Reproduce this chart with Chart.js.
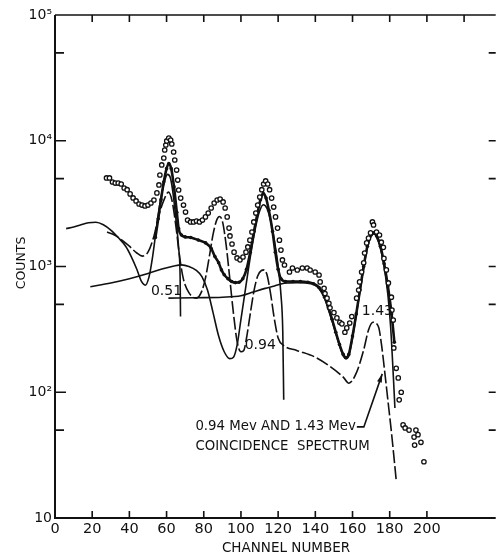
<!DOCTYPE html>
<html>
<head>
<meta charset="utf-8">
<script src="https://cdn.jsdelivr.net/npm/chart.js@4"></script>
<style>
  html, body { margin: 0; padding: 0; background: #fff; }
</style>
</head>
<body>
<canvas id="spectrum" width="501" height="560"></canvas>
<script>
// measured total spectrum (open circles), [channel, counts]
const measured = [
  [27.7,5060],[29.3,5060],[30.9,4700],[32.4,4610],[34,4610],[35.6,4530],[37.2,4210],[38.8,4080],
  [40.4,3780],[42,3510],[43.6,3320],[45.2,3140],[46.8,3080],[48.4,3030],[50,3080],[51.6,3200],
  [53.2,3380],[54.8,3850],[55.9,4450],[56.4,5340],[57.4,6420],[58.5,7290],[59,8440],[59.6,9250],
  [60.1,9960],[61.2,10500],[62.2,10140],[62.8,9420],[63.8,8140],[64.4,7030],[65.4,5850],[66,4870],
  [66.5,4060],[67.6,3500],[69.1,3080],[70.2,2710],[71.3,2340],[72.9,2260],[74.5,2260],[76.1,2300],
  [77.7,2260],[79.3,2340],[80.9,2480],[82.4,2660],[84,2920],[85.6,3200],[87.2,3380],[88.8,3440],
  [90.4,3260],[91.5,2920],[92.6,2480],[93.6,2020],[94.1,1750],[95.2,1510],[96.3,1300],[97.9,1170],
  [99.5,1130],[101.1,1190],[102.7,1300],[103.7,1430],[104.8,1620],[105.9,1880],[106.9,2260],[108,2660],
  [109,3080],[110.1,3570],[111.2,4080],[112.2,4530],[113.3,4790],[114.4,4530],[115.4,4080],[116.5,3500],
  [117.6,2970],[118.6,2480],[119.7,2020],[120.7,1620],[121.5,1350],[122.3,1127],[123.4,1028],[126.1,904],
  [127.7,973],[130.3,938],[133,973],[135.6,973],[137.2,938],[139.9,904],[142,856],[142.6,754],
  [144.7,670],[145.2,610],[146.3,560],[147.3,510],[147.9,470],[150,430],[151.6,390],[153.2,360],
  [154.3,350],[155.9,300],[156.9,325],[158.5,355],[159.6,400],[162.2,560],[163.3,650],[163.8,754],
  [164.9,904],[166,1070],[166.5,1280],[167.6,1540],[168.6,1680],[169.7,1850],[170.7,2260],[171.3,2140],
  [172.9,1880],[174.5,1780],[175.5,1560],[176.6,1420],[176.9,1160],[178.2,940],[179.3,740],[180.9,570],
  [181.2,450],[181.9,375],[182.2,225],[183.5,155],[184.6,130],[185.1,87],[186.2,100],[187.2,55],
  [188.3,52],[190.4,50],[193.1,44],[193.4,38],[194.1,50],[195.2,46],[196.8,40],[198.4,28]
];

// spectrum with filled points (heavy line)
const resolved = [
  [54,1700],[55.5,2400],[57,3400],[58.5,4700],[60,6000],[61.2,6600],[62.5,6000],[64,4300],
  [65.5,2700],[66.5,2000],[68,1780],[70,1720],[73,1700],[77,1625],[81,1540],[84,1390],
  [86,1200],[88,1070],[89.5,940],[91,860],[93,800],[95,760],[97,745],[99,750],
  [101,800],[103,950],[105,1300],[107,1900],[109,2700],[110.5,3400],[112,3800],[113.5,3500],
  [115,2800],[117,1900],[118.5,1300],[120,950],[121.5,800],[124,760],[128,760],[132,760],
  [136,750],[139,730],[142,680],[145,570],[147,470],[149,380],[151,300],[153,240],
  [155,200],[156.5,188],[158,200],[160,280],[162,420],[164,650],[166,1000],[168,1450],
  [170,1780],[171.5,1850],[173,1750],[175,1450],[177,1050],[179,700],[181,420],[182.5,250]
];

// 0.51 Mev line shape
const line051 = [
  [6,2000],[10,2060],[14,2150],[18,2230],[22,2250],[26,2150],[30,1950],[34,1700],
  [38,1450],[41,1200],[44,950],[46.5,760],[48.5,710],[50.5,820],[52.5,1200],[54.5,2000],
  [56.5,3200],[58.5,4500],[60.5,5400],[62,5100],[63.5,3800],[65,2400],[66.5,1400],[67.3,800],[67.5,400]
];

// 0.94 Mev line shape
const line094 = [
  [19,690],[30,740],[40,800],[50,880],[58,960],[64,1010],[68,1030],[72,1000],
  [76,930],[79,830],[82,650],[85,430],[88,280],[91,210],[94,185],[96,190],
  [98,240],[100,380],[102,600],[104,950],[106,1450],[108,2100],[110,2750],[112,3100],
  [114,2900],[116,2300],[118,1600],[120,1000],[121.5,600],[122.5,300],[123,87]
];

// 1.43 Mev line shape
const line143 = [
  [61,560],[75,565],[90,570],[100,585],[107,630],[113,670],[118,700],[122,730],
  [126,740],[130,745],[135,740],[139,720],[142,670],[145,560],[147,460],[149,370],
  [151,295],[153,235],[155,195],[156.5,185],[158,195],[160,270],[162,410],[164,640],
  [166,980],[168,1420],[170,1750],[171.5,1820],[173,1700],[175,1400],[177,1000],[179,600],
  [180.5,330],[182,130],[182.8,75]
];

// 0.94 Mev and 1.43 Mev coincidence spectrum (dashed)
const coincidence = [
  [28,1880],[32,1780],[36,1620],[40,1450],[44,1280],[47,1210],[50,1300],[53,1700],
  [56,2600],[59,3500],[61,3900],[63,3300],[65,2100],[67,1200],[69,800],[72,620],
  [76,560],[79,640],[81,820],[83,1200],[85,1800],[87,2350],[88.5,2500],[90,2300],
  [92,1500],[94,800],[96,420],[98,250],[100,210],[101.5,215],[103,270],[105,420],
  [107,640],[109,840],[111,930],[112.5,940],[114,860],[116,600],[118,380],[120,270],
  [123,235],[130,215],[140,190],[148,160],[155,132],[158,118],[162,142],[166,217],
  [168.6,313],[171,360],[174,330],[175.5,245],[177,160],[179,87],[181,47],[183.5,20]
];

const xTickValues = [0, 20, 40, 60, 80, 100, 120, 140, 160, 180, 200];
const xTopTicks = [20, 40, 60, 80, 100, 120, 140, 160, 180, 200, 220];
const yTickValues = [10, 100, 1000, 10000, 100000];
const yTickLabels = ['10', '10²', '10³', '10⁴', '10⁵'];
const yMinorTicks = [50, 500, 5000, 50000];
const yRightTicks = [50, 100, 500, 1000, 5000, 10000, 50000];

// text written on the plot: [text, channel, counts]
const notes = [
  ['0.51', 51.6, 630],
  ['0.94', 102, 238],
  ['1.43', 165, 443],
  ['0.94 Mev AND 1.43 Mev', 75.5, 53],
  ['COINCIDENCE  SPECTRUM', 75.5, 36.7]
];

const ink = '#111';
const toPts = arr => arr.map(p => ({ x: p[0], y: p[1] }));

const frame = {
  id: 'frame',
  afterDatasetsDraw(chart) {
    const { ctx, chartArea: a, scales: { x, y } } = chart;
    ctx.save();
    ctx.strokeStyle = ink;
    ctx.fillStyle = ink;

    // axis lines
    ctx.lineWidth = 2;
    ctx.beginPath();
    ctx.moveTo(a.left, a.top);
    ctx.lineTo(a.left, a.bottom);
    ctx.lineTo(a.right, a.bottom);
    ctx.stroke();
    ctx.lineWidth = 1.5;
    ctx.beginPath();
    ctx.moveTo(a.left, a.top);
    ctx.lineTo(a.right, a.top);
    ctx.stroke();

    // inward tick marks
    ctx.lineWidth = 1.6;
    ctx.beginPath();
    xTickValues.slice(1).forEach(v => {
      const px = x.getPixelForValue(v);
      ctx.moveTo(px, a.bottom);
      ctx.lineTo(px, a.bottom - 7);
    });
    xTopTicks.forEach(v => {
      const px = x.getPixelForValue(v);
      ctx.moveTo(px, a.top);
      ctx.lineTo(px, a.top + 7);
    });
    yTickValues.slice(1, -1).forEach(v => {
      const py = y.getPixelForValue(v);
      ctx.moveTo(a.left, py);
      ctx.lineTo(a.left + 11, py);
    });
    yMinorTicks.forEach(v => {
      const py = y.getPixelForValue(v);
      ctx.moveTo(a.left, py);
      ctx.lineTo(a.left + 9, py);
    });
    yRightTicks.forEach(v => {
      const py = y.getPixelForValue(v);
      ctx.moveTo(a.right, py);
      ctx.lineTo(a.right - 7, py);
    });
    ctx.stroke();

    // axis titles
    ctx.font = '13.5px "DejaVu Sans"';
    ctx.textAlign = 'center';
    ctx.textBaseline = 'middle';
    ctx.fillText('CHANNEL NUMBER', 286, 548);
    ctx.save();
    ctx.translate(22, 263);
    ctx.rotate(-Math.PI / 2);
    ctx.font = '12.5px "DejaVu Sans"';
    ctx.fillText('COUNTS', 0, 0);
    ctx.restore();

    // labels on the curves
    ctx.font = '14px "DejaVu Sans"';
    ctx.textAlign = 'left';
    notes.slice(0, 3).forEach(n => {
      ctx.fillText(n[0], x.getPixelForValue(n[1]), y.getPixelForValue(n[2]));
    });
    ctx.font = '13.3px "DejaVu Sans"';
    notes.slice(3).forEach(n => {
      ctx.fillText(n[0], x.getPixelForValue(n[1]), y.getPixelForValue(n[2]));
    });

    // arrow from the caption to the dashed curve
    ctx.font = '13.3px "DejaVu Sans"';
    const w = ctx.measureText(notes[3][0]).width;
    const x0 = x.getPixelForValue(notes[3][1]) + w + 1;
    const y0 = y.getPixelForValue(notes[3][2]);
    const tipX = x.getPixelForValue(176);
    const tipY = y.getPixelForValue(140);
    ctx.lineWidth = 1.6;
    ctx.beginPath();
    ctx.moveTo(x0, y0);
    ctx.lineTo(x0 + 7, y0);
    ctx.lineTo(tipX, tipY);
    ctx.stroke();
    const ang = Math.atan2(tipY - y0, tipX - (x0 + 7));
    ctx.beginPath();
    ctx.moveTo(tipX, tipY);
    ctx.lineTo(tipX - 9 * Math.cos(ang - 0.28), tipY - 9 * Math.sin(ang - 0.28));
    ctx.lineTo(tipX - 9 * Math.cos(ang + 0.28), tipY - 9 * Math.sin(ang + 0.28));
    ctx.closePath();
    ctx.fill();
    ctx.restore();
  }
};

Chart.defaults.font.family = '"DejaVu Sans", sans-serif';
Chart.defaults.color = ink;

new Chart(document.getElementById('spectrum'), {
  type: 'scatter',
  data: {
    datasets: [
      {
        label: 'measured',
        data: toPts(measured),
        showLine: false,
        pointStyle: 'circle',
        pointRadius: 2.2,
        pointBorderWidth: 1.3,
        pointBorderColor: ink,
        pointBackgroundColor: '#fff'
      },
      {
        label: 'resolved',
        data: toPts(resolved),
        showLine: true,
        borderColor: ink,
        borderWidth: 2.6,
        cubicInterpolationMode: 'monotone',
        pointRadius: 1.8,
        pointBorderWidth: 0,
        pointBackgroundColor: ink
      },
      {
        label: '0.51',
        data: toPts(line051),
        showLine: true,
        borderColor: ink,
        borderWidth: 1.6,
        cubicInterpolationMode: 'monotone',
        pointRadius: 0
      },
      {
        label: '0.94',
        data: toPts(line094),
        showLine: true,
        borderColor: ink,
        borderWidth: 1.6,
        cubicInterpolationMode: 'monotone',
        pointRadius: 0
      },
      {
        label: '1.43',
        data: toPts(line143),
        showLine: true,
        borderColor: ink,
        borderWidth: 1.6,
        cubicInterpolationMode: 'monotone',
        pointRadius: 0
      },
      {
        label: 'coincidence',
        data: toPts(coincidence),
        showLine: true,
        borderColor: ink,
        borderWidth: 1.6,
        borderDash: [13, 3],
        cubicInterpolationMode: 'monotone',
        pointRadius: 0
      }
    ]
  },
  options: {
    responsive: false,
    animation: false,
    layout: { padding: { top: 15, right: 0, left: 0, bottom: 0 } },
    plugins: {
      legend: { display: false },
      tooltip: { enabled: false }
    },
    scales: {
      x: {
        type: 'linear',
        min: 0,
        max: 237,
        afterFit: s => { s.height = 42; },
        afterBuildTicks: s => { s.ticks = xTickValues.map(v => ({ value: v })); },
        grid: { display: false, drawTicks: false },
        border: { display: false },
        ticks: {
          padding: 3,
          maxRotation: 0,
          autoSkip: false,
          font: { size: 14.5 },
          callback: v => String(v)
        }
      },
      y: {
        type: 'logarithmic',
        min: 10,
        max: 100000,
        afterFit: s => { s.width = 55; },
        afterBuildTicks: s => { s.ticks = yTickValues.map(v => ({ value: v })); },
        grid: { display: false, drawTicks: false },
        border: { display: false },
        ticks: {
          padding: 3,
          autoSkip: false,
          font: { size: 14 },
          callback: v => yTickLabels[yTickValues.indexOf(v)]
        }
      }
    }
  },
  plugins: [frame]
});
</script>
</body>
</html>
